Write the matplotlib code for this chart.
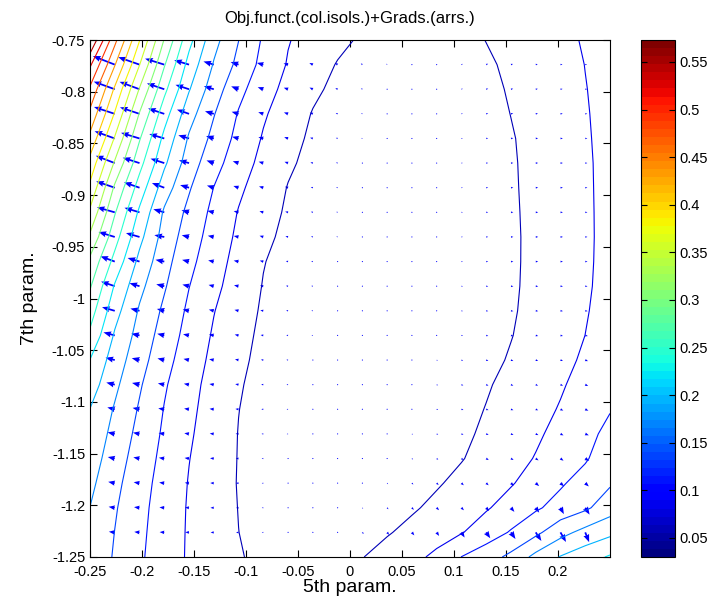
import numpy as np
import matplotlib
matplotlib.use("Agg")
import matplotlib.pyplot as plt
from matplotlib.colors import Normalize
from matplotlib.cm import ScalarMappable

plt.rcParams['font.family'] = ['Liberation Sans', 'DejaVu Sans']
plt.rcParams['axes.unicode_minus'] = False

# grid of the 5th / 7th parameter (22 x 22 evaluations)
p5 = np.linspace(-0.25, 0.25, 22)
p7 = np.linspace(-1.25, -0.75, 22)

# objective function values, top row (p7=-0.75) first
obj_rows = [
    [0.573, 0.472, 0.384, 0.300, 0.2285, 0.175, 0.139, 0.108, 0.0857, 0.0742, 0.0633, 0.0537, 0.0477, 0.0451, 0.0459, 0.050, 0.0576, 0.0648, 0.072, 0.0792, 0.0861, 0.092],
    [0.523, 0.439, 0.3565, 0.2767, 0.2103, 0.1636, 0.1315, 0.1032, 0.0823, 0.0686, 0.0557, 0.0483, 0.0438, 0.042, 0.0431, 0.0469, 0.0536, 0.0617, 0.0693, 0.077, 0.0846, 0.091],
    [0.487, 0.4061, 0.3268, 0.2542, 0.1948, 0.1511, 0.1193, 0.0948, 0.0766, 0.0619, 0.0512, 0.0444, 0.0404, 0.039, 0.0403, 0.0442, 0.0508, 0.0595, 0.0676, 0.0756, 0.0837, 0.0905],
    [0.458, 0.3807, 0.2998, 0.2318, 0.1766, 0.140, 0.1095, 0.0874, 0.0708, 0.0558, 0.0474, 0.0415, 0.038, 0.037, 0.0384, 0.0423, 0.0487, 0.0575, 0.066, 0.0745, 0.083, 0.090],
    [0.430, 0.3534, 0.2766, 0.2128, 0.1623, 0.1312, 0.1034, 0.0821, 0.0658, 0.0526, 0.0446, 0.0391, 0.0359, 0.035, 0.0366, 0.0405, 0.0468, 0.0554, 0.0646, 0.0735, 0.0825, 0.0895],
    [0.401, 0.3254, 0.2564, 0.1977, 0.1519, 0.1212, 0.0964, 0.0771, 0.0609, 0.050, 0.0426, 0.0375, 0.0346, 0.0341, 0.0358, 0.0398, 0.0461, 0.0546, 0.0639, 0.073, 0.0821, 0.089],
    [0.377, 0.2971, 0.2353, 0.1788, 0.1412, 0.111, 0.089, 0.0716, 0.0561, 0.0472, 0.0404, 0.0358, 0.0334, 0.0332, 0.0351, 0.0393, 0.0457, 0.0542, 0.0636, 0.0727, 0.0819, 0.089],
    [0.351, 0.2766, 0.2152, 0.162, 0.1318, 0.1044, 0.083, 0.0673, 0.0536, 0.0451, 0.0387, 0.0344, 0.0323, 0.0323, 0.0344, 0.0387, 0.0452, 0.0537, 0.0632, 0.0725, 0.0817, 0.089],
    [0.324, 0.258, 0.2005, 0.155, 0.1251, 0.0997, 0.0795, 0.063, 0.0508, 0.0428, 0.0368, 0.0329, 0.0311, 0.0314, 0.0338, 0.0382, 0.0447, 0.0533, 0.0629, 0.0723, 0.0816, 0.089],
    [0.295, 0.2386, 0.1855, 0.148, 0.1185, 0.0951, 0.0756, 0.0582, 0.0483, 0.0409, 0.0354, 0.032, 0.0305, 0.0311, 0.0337, 0.0382, 0.0448, 0.0534, 0.0629, 0.0723, 0.0816, 0.0895],
    [0.277, 0.2176, 0.173, 0.1413, 0.112, 0.0906, 0.0722, 0.056, 0.0469, 0.0397, 0.0345, 0.0312, 0.030, 0.0308, 0.0335, 0.0383, 0.045, 0.0537, 0.0633, 0.0727, 0.082, 0.090],
    [0.2595, 0.2031, 0.1626, 0.1335, 0.1063, 0.0852, 0.0684, 0.054, 0.0455, 0.0389, 0.0342, 0.0314, 0.0305, 0.0315, 0.0344, 0.0392, 0.046, 0.0546, 0.0641, 0.0735, 0.0828, 0.092],
    [0.242, 0.1897, 0.1558, 0.127, 0.1018, 0.0815, 0.0649, 0.0522, 0.0443, 0.0382, 0.0339, 0.0316, 0.031, 0.0324, 0.0356, 0.0406, 0.0475, 0.0563, 0.0657, 0.075, 0.0844, 0.095],
    [0.2195, 0.1796, 0.1492, 0.1206, 0.0973, 0.0782, 0.062, 0.0509, 0.0435, 0.0379, 0.0342, 0.0323, 0.0322, 0.034, 0.0376, 0.0431, 0.0504, 0.0594, 0.0687, 0.0779, 0.0877, 0.099],
    [0.206, 0.1714, 0.1416, 0.1144, 0.0929, 0.075, 0.0592, 0.0496, 0.0426, 0.0375, 0.0343, 0.033, 0.0336, 0.0361, 0.0404, 0.0467, 0.0548, 0.0639, 0.0729, 0.0818, 0.0926, 0.104],
    [0.1925, 0.1633, 0.1359, 0.1104, 0.0901, 0.073, 0.0575, 0.0488, 0.0423, 0.0376, 0.0349, 0.034, 0.035, 0.0379, 0.0427, 0.0494, 0.058, 0.0672, 0.0764, 0.086, 0.098, 0.110],
    [0.1855, 0.1572, 0.1309, 0.1073, 0.0875, 0.0714, 0.0565, 0.0488, 0.0429, 0.0388, 0.0365, 0.0361, 0.0374, 0.0406, 0.0456, 0.0524, 0.0612, 0.0709, 0.0805, 0.0916, 0.1035, 0.1186],
    [0.179, 0.1513, 0.1262, 0.1042, 0.0849, 0.0701, 0.0562, 0.049, 0.0437, 0.0401, 0.0382, 0.0382, 0.0399, 0.0435, 0.0488, 0.0559, 0.0655, 0.0755, 0.0856, 0.0971, 0.1087, 0.127],
    [0.172, 0.1457, 0.122, 0.1014, 0.083, 0.069, 0.0559, 0.0491, 0.0441, 0.0411, 0.040, 0.0408, 0.0435, 0.0481, 0.0547, 0.0635, 0.0729, 0.0823, 0.0948, 0.1083, 0.1219, 0.1355],
    [0.1655, 0.1412, 0.119, 0.0994, 0.082, 0.0691, 0.0566, 0.0497, 0.045, 0.0425, 0.0421, 0.044, 0.048, 0.0541, 0.0629, 0.0724, 0.0819, 0.0944, 0.1079, 0.1209, 0.1338, 0.154],
    [0.162, 0.1382, 0.117, 0.0983, 0.0816, 0.0695, 0.0573, 0.0501, 0.0457, 0.044, 0.045, 0.0487, 0.0551, 0.0641, 0.0734, 0.0828, 0.0976, 0.1137, 0.1321, 0.1568, 0.1742, 0.1865],
    [0.158, 0.136, 0.1153, 0.0972, 0.0814, 0.0703, 0.0591, 0.0509, 0.0467, 0.0463, 0.0495, 0.0564, 0.0667, 0.0769, 0.09, 0.1118, 0.1266, 0.1451, 0.1736, 0.1944, 0.2087, 0.223],
]

n_isolines = 19
xtick_vals = [-0.25, -0.2, -0.15, -0.1, -0.05, 0, 0.05, 0.1, 0.15, 0.2]
ytick_vals = [-0.75, -0.8, -0.85, -0.9, -0.95, -1, -1.05, -1.1, -1.15, -1.2, -1.25]
cbar_ticks = [0.05, 0.1, 0.15, 0.2, 0.25, 0.3, 0.35, 0.4, 0.45, 0.5, 0.55]

Z = np.flipud(np.array(obj_rows))
X, Y = np.meshgrid(p5, p7)
zmin, zmax = Z.min(), Z.max()
levels = np.linspace(zmin, zmax, n_isolines + 2)[1:-1]

cmap = plt.get_cmap('jet', 64)
norm = Normalize(zmin, zmax)

fig = plt.figure(figsize=(7.15, 6.10), dpi=100)
ax = fig.add_axes([90/715, 53/610, 520/715, 517/610])

ax.contour(X, Y, Z, levels=levels, cmap=cmap, norm=norm, linewidths=0.8)

# gradient arrows on the interior points
gy, gx = np.gradient(Z, p7, p5)
dx = p5[1] - p5[0]
U = gx[1:-1, 1:-1]
V = gy[1:-1, 1:-1]
mag = np.hypot(U, V)
scale = mag.max() / (0.95 * dx)
ax.quiver(X[1:-1, 1:-1], Y[1:-1, 1:-1], U, V, color='blue',
          angles='xy', scale_units='xy', scale=scale,
          width=0.0034, headwidth=3.4, headlength=4.4, headaxislength=4,
          minshaft=1, minlength=0.7)

ax.set_xlim(-0.25, 0.25)
ax.set_ylim(-1.25, -0.75)
ax.set_xticks(xtick_vals)
ax.set_xticklabels(['%g' % v for v in xtick_vals])
ax.set_yticks(ytick_vals)
ax.set_yticklabels(['%g' % v for v in ytick_vals])
ax.tick_params(direction='in', top=True, right=True, length=5, labelsize=10.5)
ax.tick_params(axis='x', pad=6)
ax.set_title('Obj.funct.(col.isols.)+Grads.(arrs.)', fontsize=12, pad=12)
ax.set_xlabel('5th param.', fontsize=14, labelpad=0)
ax.set_ylabel('7th param.', fontsize=14, labelpad=10)

cax = fig.add_axes([641/715, 53/610, 34/715, 517/610])
cb = fig.colorbar(ScalarMappable(norm=norm, cmap=cmap), cax=cax, ticks=cbar_ticks)
cb.ax.set_yticklabels(['%g' % v for v in cbar_ticks])
cb.ax.tick_params(direction='in', left=True, right=True, length=4, labelsize=10.5)
cb.outline.set_linewidth(0.8)

fig.savefig('out.png', dpi=100)
